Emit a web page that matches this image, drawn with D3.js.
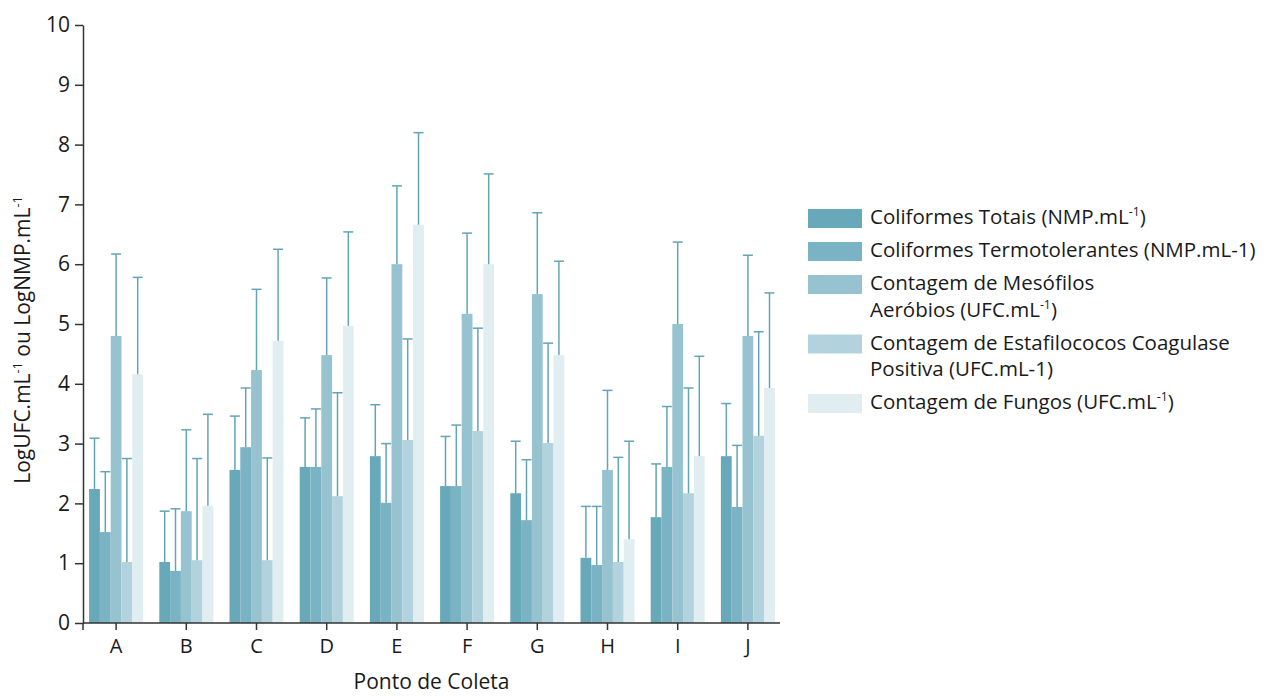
<!DOCTYPE html>
<html>
<head>
<meta charset="utf-8">
<script src="https://cdn.jsdelivr.net/npm/d3@7"></script>
<style>
  body { margin: 0; background: #fff; }
  text { font-family: "Open Sans", sans-serif; fill: #1a1a1a; }
</style>
</head>
<body>
<div id="chart"></div>
<script>
// categories (sampling points)
const categories = ["A", "B", "C", "D", "E", "F", "G", "H", "I", "J"];

// series names ("{-1}" is drawn as a superscript)
const seriesNames = [
  ["Coliformes Totais (NMP.mL{-1})"],
  ["Coliformes Termotolerantes (NMP.mL-1)"],
  ["Contagem de Mesófilos", "Aeróbios (UFC.mL{-1})"],
  ["Contagem de Estafilococos Coagulase", "Positiva (UFC.mL-1)"],
  ["Contagem de Fungos (UFC.mL{-1})"]
];

// mean values
const totais = [2.24, 1.02, 2.56, 2.61, 2.79, 2.29, 2.17, 1.09, 1.77, 2.79];
const termo  = [1.52, 0.87, 2.94, 2.61, 2.01, 2.29, 1.72, 0.97, 2.61, 1.94];
const meso   = [4.80, 1.87, 4.23, 4.48, 6.00, 5.17, 5.50, 2.56, 5.00, 4.80];
const estaf  = [1.02, 1.05, 1.05, 2.12, 3.06, 3.21, 3.01, 1.02, 2.17, 3.13];
const fungos = [4.16, 1.96, 4.72, 4.97, 6.66, 6.00, 4.48, 1.40, 2.79, 3.93];

// upper end of the error bars
const totaisTop = [3.09, 1.87, 3.46, 3.43, 3.65, 3.12, 3.04, 1.95, 2.66, 3.67];
const termoTop  = [2.53, 1.91, 3.93, 3.58, 3.00, 3.31, 2.73, 1.95, 3.62, 2.97];
const mesoTop   = [6.17, 3.23, 5.58, 5.77, 7.31, 6.52, 6.86, 3.89, 6.37, 6.15];
const estafTop  = [2.75, 2.75, 2.76, 3.85, 4.75, 4.93, 4.68, 2.77, 3.93, 4.87];
const fungosTop = [5.78, 3.49, 6.25, 6.54, 8.20, 7.51, 6.05, 3.04, 4.46, 5.52];

const yTicks = [0, 1, 2, 3, 4, 5, 6, 7, 8, 9, 10];

const colors = ["#67a8b9", "#7ab3c3", "#96c3cf", "#b2d3dd", "#e0edf1"];
const errColor = "#62a5b7";

const means = [totais, termo, meso, estaf, fungos];
const tops = [totaisTop, termoTop, mesoTop, estafTop, fungosTop];

const width = 1266, height = 696;

const svg = d3.select("#chart")
  .append("svg")
  .attr("width", width)
  .attr("height", height);

// scales
const xScale = d3.scaleBand()
  .domain(categories)
  .range([81, 783]);

const xSub = d3.scaleBand()
  .domain(d3.range(seriesNames.length))
  .range([0, 54]);

const yScale = d3.scaleLinear()
  .domain([0, 10])
  .range([623, 25]);

// helper: write a label with superscript "-1"
function richText(sel, str, size) {
  const parts = str.split("{-1}");
  parts.forEach((p, i) => {
    if (p) sel.append("tspan").text(p);
    if (i < parts.length - 1) {
      sel.append("tspan")
        .attr("font-size", size * 0.6)
        .attr("baseline-shift", "super")
        .text("-1");
    }
  });
}

// bars
const rows = categories.map((c, i) => ({ cat: c, i: i }));

means.forEach((vals, s) => {
  svg.append("g")
    .selectAll("rect")
    .data(rows)
    .enter()
    .append("rect")
    .attr("x", d => xScale(d.cat) + (xScale.bandwidth() - 54) / 2 + xSub(s))
    .attr("y", d => yScale(vals[d.i]))
    .attr("width", xSub.bandwidth())
    .attr("height", d => yScale(0) - yScale(vals[d.i]))
    .style("fill", colors[s]);
});

// error bars (upper only)
means.forEach((vals, s) => {
  const g = svg.append("g")
    .style("stroke", errColor)
    .style("stroke-width", 1.5);
  const cx = d => xScale(d.cat) + (xScale.bandwidth() - 54) / 2 + xSub(s) + xSub.bandwidth() / 2;
  g.selectAll("line.v")
    .data(rows)
    .enter()
    .append("line")
    .attr("class", "v")
    .attr("x1", cx)
    .attr("x2", cx)
    .attr("y1", d => yScale(vals[d.i]))
    .attr("y2", d => yScale(tops[s][d.i]));
  g.selectAll("line.cap")
    .data(rows)
    .enter()
    .append("line")
    .attr("class", "cap")
    .attr("x1", d => cx(d) - 5)
    .attr("x2", d => cx(d) + 5)
    .attr("y1", d => yScale(tops[s][d.i]))
    .attr("y2", d => yScale(tops[s][d.i]));
});

// y axis
const yAxis = svg.append("g")
  .attr("transform", "translate(83,0)")
  .call(d3.axisLeft(yScale).tickValues(yTicks).tickSize(8).tickSizeOuter(0).tickPadding(5));
yAxis.selectAll("text").style("font-size", "21px");

// x axis
const xAxis = svg.append("g")
  .attr("transform", "translate(0," + yScale(0) + ")")
  .call(d3.axisBottom(xScale).tickSize(7).tickSizeOuter(0).tickPadding(9));
xAxis.select(".domain").attr("d", "M83,0H780");
xAxis.selectAll("text").style("font-size", "20px");

svg.selectAll(".domain, .tick line")
  .style("stroke", "#333")
  .style("stroke-width", 1.5);

// y axis extension below baseline
svg.append("line")
  .attr("x1", 83).attr("x2", 83)
  .attr("y1", yScale(0)).attr("y2", yScale(0) + 7)
  .style("stroke", "#333")
  .style("stroke-width", 1.5);

// axis titles
svg.append("text")
  .attr("x", (83 + 780) / 2)
  .attr("y", 689)
  .attr("text-anchor", "middle")
  .style("font-size", "21px")
  .text("Ponto de Coleta");

const yTitle = svg.append("text")
  .attr("transform", "translate(30,340) rotate(-90)")
  .attr("text-anchor", "middle")
  .style("font-size", "21px");
richText(yTitle, "LogUFC.mL{-1} ou LogNMP.mL{-1}", 21);

// legend
const legend = svg.append("g");
let baseY = 224;
seriesNames.forEach((lines, s) => {
  legend.append("rect")
    .attr("x", 808)
    .attr("y", baseY - 15)
    .attr("width", 54)
    .attr("height", 19)
    .style("fill", colors[s]);
  lines.forEach((ln, j) => {
    const t = legend.append("text")
      .attr("x", 870)
      .attr("y", baseY + j * 26.5)
      .style("font-size", "20.5px");
    richText(t, ln, 20.5);
  });
  baseY += (lines.length - 1) * 26.5 + 33;
});
</script>
</body>
</html>
